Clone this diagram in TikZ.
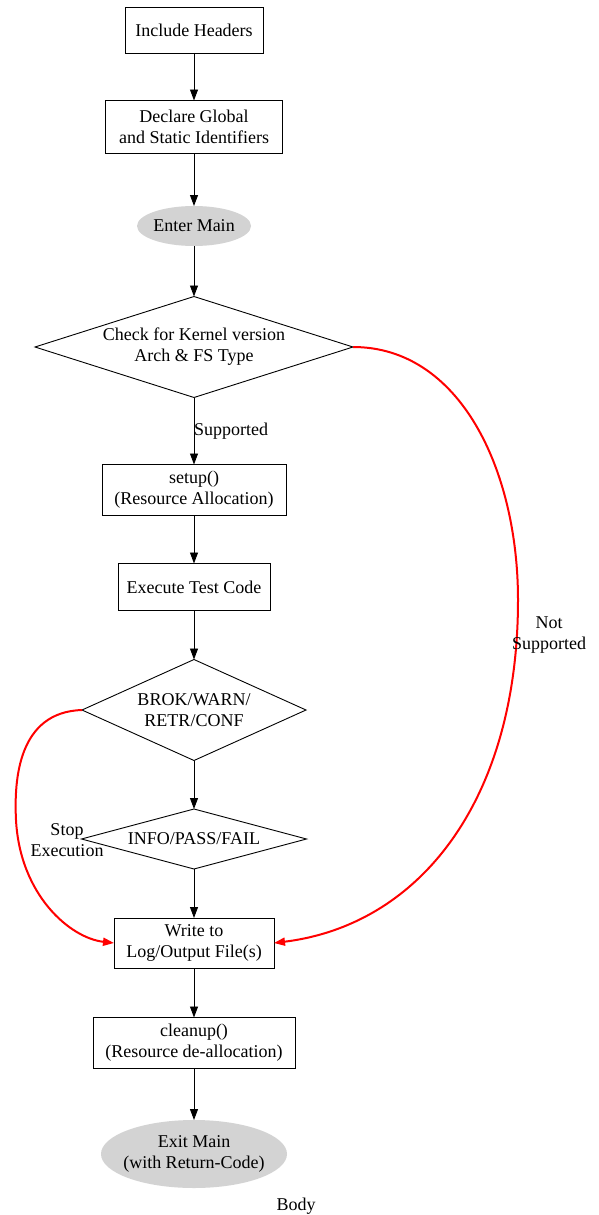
\documentclass[tikz,border=0pt]{standalone}
\usepackage{fontspec}
\setmainfont{Liberation Serif}
\usetikzlibrary{shapes.geometric,arrows.meta}

\definecolor{lightgrey}{HTML}{D3D3D3}

\begin{document}
\begin{tikzpicture}[x=1pt,y=-1pt,
    font=\fontsize{18}{21}\selectfont,
    every node/.style={align=center, inner sep=0pt, outer sep=0pt},
    proc/.style={rectangle, draw, line width=0.9pt},
    term/.style={ellipse, fill=lightgrey, inner xsep=-10pt},
    cond/.style={diamond, draw, line width=0.9pt},
    arr/.style={line width=0.9pt, -{Triangle[length=11pt,width=8pt]}},
    fail/.style={red, line width=2pt, -{Triangle[length=11pt,width=8pt]}},
    ]
\useasboundingbox (0,0) rectangle (598,1215);

% main column
\node[proc, minimum width=138, minimum height=46] (hdr)  at (194,30)  {Include Headers};
\node[proc, minimum width=177, minimum height=53] (decl) at (194,127) {Declare Global\\and Static Identifiers};
\node[term, minimum width=114, minimum height=40] (main) at (194,226) {Enter Main};
\node[cond, aspect=3.15, minimum width=318, minimum height=101] (chk) at (194,347) {Check for Kernel version\\Arch \& FS Type};
\node[proc, minimum width=184, minimum height=51] (setup) at (194,490) {setup()\\(Resource Allocation)};
\node[proc, minimum width=152, minimum height=47] (exec) at (194,587) {Execute Test Code};
\node[cond, aspect=2.2, minimum width=224, minimum height=101] (brok) at (194,710) {BROK/WARN/\\RETR/CONF};
\node[cond, aspect=3.75, minimum width=225, minimum height=60] (info) at (194,839) {INFO/PASS/FAIL};
\node[proc, minimum width=160, minimum height=50] (log) at (194,943) {Write to\\Log/Output File(s)};
\node[proc, minimum width=202, minimum height=51] (clean) at (194,1043) {cleanup()\\(Resource de-allocation)};
\node[term, minimum width=186, minimum height=68] (exit) at (194,1154) {Exit Main\\(with Return-Code)};

\node (body) at (296,1206) {Body};

% flow
\draw[arr] (hdr) -- (decl);
\draw[arr] (decl) -- (main);
\draw[arr] (main) -- (chk);
\draw[arr] (chk) -- node[anchor=west, pos=0.5] (sup) {Supported} (setup);
\draw[arr] (setup) -- (exec);
\draw[arr] (exec) -- (brok);
\draw[arr] (brok) -- (info);
\draw[arr] (info) -- (log);
\draw[arr] (log) -- (clean);
\draw[arr] (clean) -- (exit);

% failure paths
\draw[fail] (chk.east) .. controls (460,347) and (518,470) .. (518,600)
    .. controls (518,800) and (420,925) .. (log.east);
\node (nsup) at (549,635) {Not\\Supported};

\draw[fail] (brok.west) .. controls (18,712) and (14,780) .. (16,820)
    .. controls (20,895) and (70,938) .. (log.west);
\node (stop) at (67,840) {Stop\\Execution};
\end{tikzpicture}
\end{document}
